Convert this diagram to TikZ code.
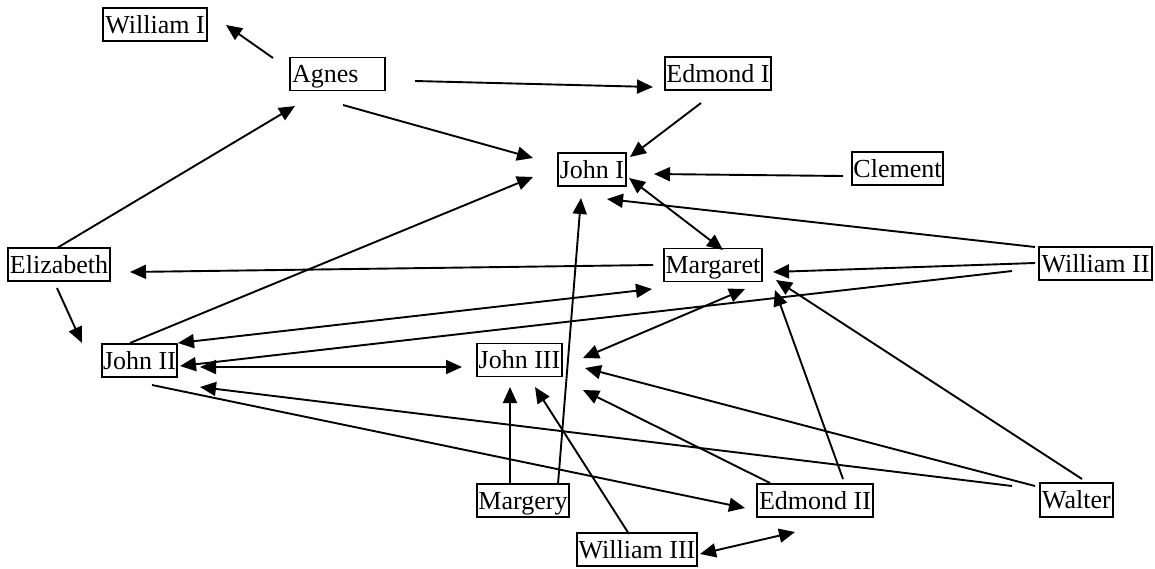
\documentclass[tikz,border=0pt]{standalone}
\usepackage{fontspec}
\setmainfont{Liberation Serif}
\usetikzlibrary{arrows.meta}
\begin{document}
\begin{tikzpicture}[x=1pt,y=-1pt,
  box/.style={draw, line width=1.3pt, inner xsep=0pt, inner ysep=2pt, text height=23pt, text depth=6pt, font=\fontsize{26}{30}\selectfont},
  arr/.style={line width=1.9pt, -{Triangle[length=16pt,width=14pt]}},
  darr/.style={line width=1.9pt, {Triangle[length=16pt,width=14pt]}-{Triangle[length=16pt,width=14pt]}}]
\fill[white] (0,0) rectangle (1155,568);
\useasboundingbox (0,0) rectangle (1155,568);
% nodes
\node[box, minimum width=104pt, minimum height=33pt] (w1) at (155,24.5) {William I};
\node[box, text width=91pt, inner xsep=2pt, align=left, minimum height=32pt] (ag) at (337.5,74) {Agnes};
\node[box, minimum width=106pt, minimum height=33pt] (e1) at (718,73.5) {Edmond I};
\node[box, minimum width=68pt, minimum height=33pt] (j1) at (592,169.5) {John I};
\node[box, minimum width=91pt, minimum height=33pt] (cl) at (897.5,168.5) {Clement};
\node[box, minimum width=113pt, minimum height=33pt] (w2) at (1095.5,263.5) {William II};
\node[box, minimum width=98pt, minimum height=32pt] (ma) at (713,265) {Margaret};
\node[box, minimum width=102pt, minimum height=33pt] (el) at (59,264.5) {Elizabeth};
\node[box, minimum width=75pt, minimum height=33pt] (j2) at (139.5,360.5) {John II};
\node[box, minimum width=85pt, minimum height=32pt] (j3) at (519.5,360) {John III};
\node[box, minimum width=92pt, minimum height=33pt] (my) at (523,500.5) {Margery};
\node[box, minimum width=116pt, minimum height=33pt] (e2) at (815,500.5) {Edmond II};
\node[box, minimum width=120pt, minimum height=33pt] (w3) at (637,549.5) {William III};
\node[box, minimum width=73pt, minimum height=34pt] (wa) at (1076.5,500) {Walter};
% connector end points
\coordinate (agA) at (273,58);   \coordinate (w1A) at (226,25);
\coordinate (elB) at (57,248);   \coordinate (agB) at (295,106);
\coordinate (agC) at (415,81);   \coordinate (e1C) at (653,87);
\coordinate (agD) at (343,105);  \coordinate (j1D) at (533,158);
\coordinate (e1E) at (701,103);  \coordinate (j1E) at (630,157);
\coordinate (clF) at (843,176);  \coordinate (j1F) at (654,174);
\coordinate (w2G) at (1035,247); \coordinate (j1G) at (607,199);
\coordinate (j1H) at (629,178);  \coordinate (maH) at (723,250);
\coordinate (myI) at (558,484);  \coordinate (j1I) at (581,198);
\coordinate (j2J) at (130,343);  \coordinate (j1J) at (533,177);
\coordinate (maK) at (653,265);  \coordinate (elK) at (130,272);
\coordinate (elL) at (57,288);   \coordinate (j2L) at (82,343);
\coordinate (w2M) at (1035,263); \coordinate (maM) at (773,272);
\coordinate (w2N) at (1012,271); \coordinate (j2N) at (180,366);
\coordinate (j2O) at (178,343);  \coordinate (maO) at (652,289);
\coordinate (j2P) at (200,367);  \coordinate (j3P) at (462,367);
\coordinate (waQ) at (1012,486); \coordinate (j2Q) at (200,387);
\coordinate (j2R) at (152,385);  \coordinate (e2R) at (745,508);
\coordinate (maS) at (745,289);  \coordinate (j3S) at (583,358);
\coordinate (e2T) at (770,483);  \coordinate (j3T) at (583,390);
\coordinate (waU) at (1035,486); \coordinate (j3U) at (585,368);
\coordinate (myV) at (510,484);  \coordinate (j3V) at (510,387);
\coordinate (w3W) at (629,534);  \coordinate (j3W) at (535,387);
\coordinate (e2X) at (843,479);  \coordinate (maX) at (775,290);
\coordinate (waY) at (1082,479); \coordinate (maY) at (776,280);
\coordinate (w3Z) at (700,554);  \coordinate (e2Z) at (795,532);
% connectors
\draw[arr] (agA) -- (w1A);
\draw[arr] (elB) -- (agB);
\draw[arr] (agC) -- (e1C);
\draw[arr] (agD) -- (j1D);
\draw[arr] (e1E) -- (j1E);
\draw[arr] (clF) -- (j1F);
\draw[arr] (w2G) -- (j1G);
\draw[darr] (j1H) -- (maH);
\draw[arr] (myI) -- (j1I);
\draw[arr] (j2J) -- (j1J);
\draw[arr] (maK) -- (elK);
\draw[arr] (elL) -- (j2L);
\draw[arr] (w2M) -- (maM);
\draw[arr] (w2N) -- (j2N);
\draw[darr] (j2O) -- (maO);
\draw[darr] (j2P) -- (j3P);
\draw[arr] (waQ) -- (j2Q);
\draw[arr] (j2R) -- (e2R);
\draw[darr] (maS) -- (j3S);
\draw[arr] (e2T) -- (j3T);
\draw[arr] (waU) -- (j3U);
\draw[arr] (myV) -- (j3V);
\draw[arr] (w3W) -- (j3W);
\draw[arr] (e2X) -- (maX);
\draw[arr] (waY) -- (maY);
\draw[darr] (w3Z) -- (e2Z);
\end{tikzpicture}
\end{document}
